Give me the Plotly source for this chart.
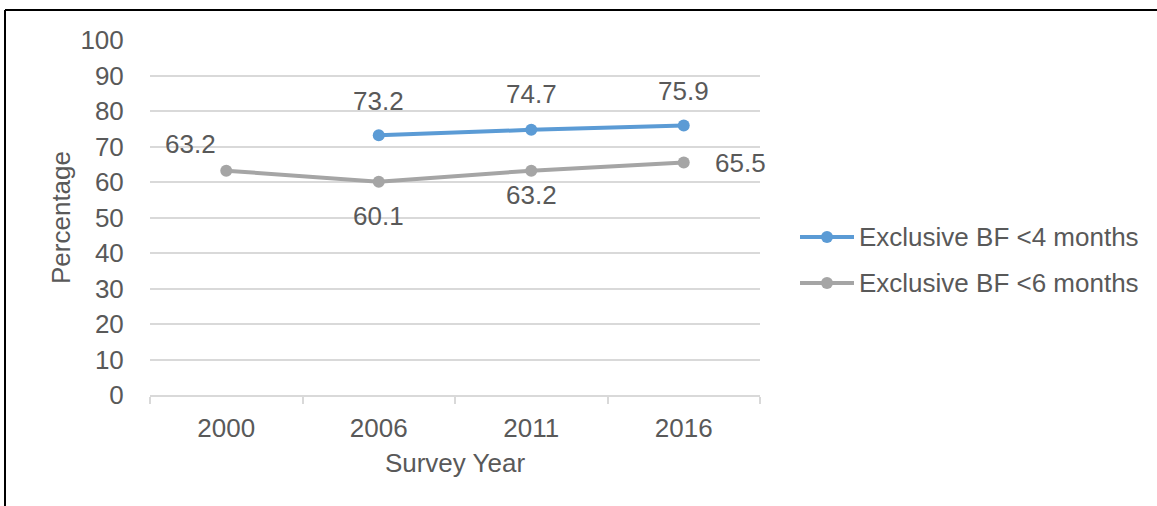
import plotly.graph_objects as go

years = ["2000", "2006", "2011", "2016"]
bf4_years = ["2006", "2011", "2016"]
bf4_values = [73.2, 74.7, 75.9]
bf6_values = [63.2, 60.1, 63.2, 65.5]
y_ticks = [0, 10, 20, 30, 40, 50, 60, 70, 80, 90, 100]
series_names = ["Exclusive BF <4 months", "Exclusive BF <6 months"]

BLUE = "#5b9bd5"
GRAY = "#a5a5a5"
TEXT = "#595959"
GRID = "#d9d9d9"
FONT = "Liberation Sans, Arial, sans-serif"
FS = 26

W, H = 1157, 506
ML, MR, MT, MB = 150, 397, 40, 111

fig = go.Figure()
fig.add_trace(go.Scatter(
    x=bf4_years, y=bf4_values, mode="lines+markers", name=series_names[0],
    line=dict(color=BLUE, width=4), marker=dict(color=BLUE, size=12),
))
fig.add_trace(go.Scatter(
    x=years, y=bf6_values, mode="lines+markers", name=series_names[1],
    line=dict(color=GRAY, width=4), marker=dict(color=GRAY, size=12),
))

# data labels, offset from each marker in pixels (category axis -> index positions)
bf4_shift = [(0, 34), (0, 36), (0, 35)]
bf6_shift = [(-36, 27), (0, -34), (0, -24), (57, -1)]
annotations = []
for x, v, (dx, dy) in zip(bf4_years, bf4_values, bf4_shift):
    annotations.append(dict(x=years.index(x), y=v, xref="x", yref="y",
                            text=f"{v:.1f}", showarrow=False,
                            xshift=dx, yshift=dy, font=dict(size=FS, color=TEXT, family=FONT)))
for x, v, (dx, dy) in zip(years, bf6_values, bf6_shift):
    annotations.append(dict(x=years.index(x), y=v, xref="x", yref="y",
                            text=f"{v:.1f}", showarrow=False,
                            xshift=dx, yshift=dy, font=dict(size=FS, color=TEXT, family=FONT)))

pw, ph = W - ML - MR, H - MT - MB
def px_x(p):
    return (p - ML) / pw
def px_y(p):
    return 1 - (p - MT) / ph

# outer frame (top and left edges)
shapes = [
    dict(type="line", xref="paper", yref="paper", x0=px_x(5), x1=px_x(W + 5),
         y0=px_y(10), y1=px_y(10), line=dict(color="black", width=2)),
    dict(type="line", xref="paper", yref="paper", x0=px_x(5), x1=px_x(5),
         y0=px_y(10), y1=px_y(H + 5), line=dict(color="black", width=2)),
]

# legend: long line swatch with a centred marker, label to the right
legend_rows = [(series_names[0], BLUE, 237), (series_names[1], GRAY, 283)]
for name, color, ypx in legend_rows:
    shapes.append(dict(type="line", xref="paper", yref="paper",
                       x0=px_x(800), x1=px_x(854), y0=px_y(ypx), y1=px_y(ypx),
                       line=dict(color=color, width=4)))
    shapes.append(dict(type="circle", xref="paper", yref="paper",
                       x0=px_x(821), x1=px_x(833), y0=px_y(ypx + 6), y1=px_y(ypx - 6),
                       fillcolor=color, line=dict(color=color, width=0)))
    annotations.append(dict(x=px_x(857), y=px_y(ypx), xref="paper", yref="paper",
                            xanchor="left", yanchor="middle", text=name, showarrow=False,
                            font=dict(size=FS, color=TEXT, family=FONT)))

fig.update_layout(
    width=W, height=H,
    margin=dict(l=ML, r=MR, t=MT, b=MB),
    paper_bgcolor="white", plot_bgcolor="white",
    font=dict(family=FONT, color=TEXT, size=FS),
    showlegend=False,
    annotations=annotations,
    shapes=shapes,
    xaxis=dict(
        type="category", categoryorder="array", categoryarray=years,
        range=[-0.5, 3.5], tickson="boundaries",
        ticks="outside", ticklen=7, tickcolor=GRID, tickwidth=1.5,
        ticklabelstandoff=9,
        showline=True, linecolor=GRID, linewidth=1.5,
        showgrid=False, tickfont=dict(size=FS, color=TEXT),
        title=dict(text="Survey Year", font=dict(size=FS, color=TEXT), standoff=12),
    ),
    yaxis=dict(
        range=[0, 100], tickvals=y_ticks, showgrid=True, gridcolor=GRID, gridwidth=1.5,
        zeroline=False, showline=False,
        ticks="outside", ticklen=20, tickcolor="rgba(0,0,0,0)",
        tickfont=dict(size=FS, color=TEXT),
        title=dict(text="Percentage", font=dict(size=FS, color=TEXT), standoff=2),
    ),
)

fig.write_html("out.html")
